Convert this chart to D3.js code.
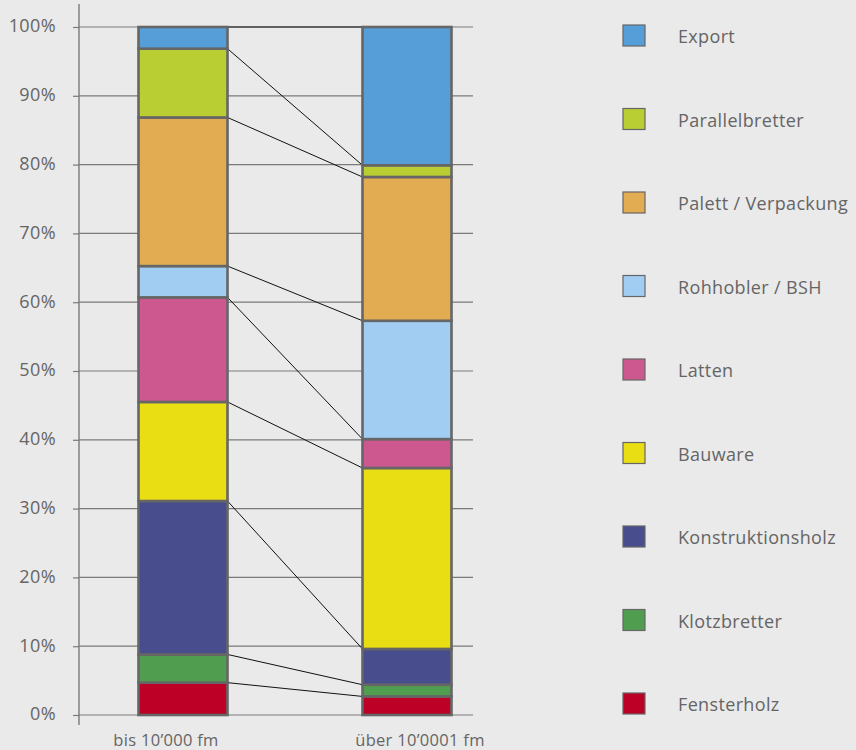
<!DOCTYPE html>
<html>
<head>
<meta charset="utf-8">
<script src="https://cdn.jsdelivr.net/npm/d3@7"></script>
<style>
  html, body { margin: 0; padding: 0; background: #eaeaea; }
  svg { display: block; }
  text { font-family: "Open Sans", "Noto Sans", sans-serif; fill: #656565; }
</style>
</head>
<body>
<svg id="chart" width="856" height="750"></svg>
<script>
// Sawmill output split by product group, for two plant-size classes (share in %)
const categories = ["bis 10’000 fm", "über 10’0001 fm"];

// Product groups, stacked from the bottom up
const products = [
  "Fensterholz", "Klotzbretter", "Konstruktionsholz", "Bauware", "Latten",
  "Rohhobler / BSH", "Palett / Verpackung", "Parallelbretter", "Export"
];

// Share of each product group per size class
const fensterholz       = [4.7, 2.7];
const klotzbretter      = [4.1, 1.7];
const konstruktionsholz = [22.3, 5.2];
const bauware           = [14.4, 26.3];
const latten            = [15.2, 4.2];
const rohhobler         = [4.55, 17.2];
const palett            = [21.6, 20.9];
const parallelbretter   = [10.0, 1.7];
const exportShare       = [3.15, 20.1];

const colors = [
  "#bd0026", "#519d4f", "#484d8d", "#e9dd14", "#cd578f",
  "#a2cdf2", "#e2ad52", "#b8ce33", "#559ed8"
];

const yTicks = [0, 10, 20, 30, 40, 50, 60, 70, 80, 90, 100];

const seriesValues = [
  fensterholz, klotzbretter, konstruktionsholz, bauware, latten,
  rohhobler, palett, parallelbretter, exportShare
];

// Rows per category for d3.stack
const rows = categories.map((c, j) => {
  const r = { category: c };
  products.forEach((p, i) => { r[p] = seriesValues[i][j]; });
  return r;
});

const stacked = d3.stack().keys(products)(rows);

const svg = d3.select("#chart");

const y = d3.scaleLinear().domain([0, 100]).range([715, 27]);
const x = d3.scalePoint().domain(categories).range([183, 407]);
const barW = 89;
const color = d3.scaleOrdinal().domain(products).range(colors);

// Horizontal gridlines
svg.append("g")
  .selectAll("line")
  .data(yTicks)
  .join("line")
  .attr("x1", 79).attr("x2", 473)
  .attr("y1", d => y(d)).attr("y2", d => y(d))
  .attr("stroke", "#7a7a7a")
  .attr("stroke-width", 1.2);

// Y axis
const yAxis = d3.axisLeft(y)
  .tickValues(yTicks)
  .tickSize(6)
  .tickPadding(17)
  .tickFormat(d => d + "%");

const gy = svg.append("g")
  .attr("transform", "translate(79,0)")
  .call(yAxis);
gy.select(".domain").remove();
gy.selectAll(".tick line").attr("stroke", "#7a7a7a").attr("stroke-width", 1.2);
gy.selectAll(".tick text")
  .attr("font-size", 18)
  .attr("letter-spacing", 0.4)
  .attr("dy", "0.27em")
  .style("font-family", "'Open Sans', sans-serif")
  .attr("fill", "#656565");

svg.append("line")
  .attr("x1", 79).attr("x2", 79)
  .attr("y1", 4).attr("y2", 725)
  .attr("stroke", "#7a7a7a")
  .attr("stroke-width", 1.4);

// Connector lines between matching segment tops of the two bars
const c0 = categories[0], c1 = categories[1];
svg.append("g")
  .selectAll("line")
  .data(stacked)
  .join("line")
  .attr("x1", x(c0) + barW / 2)
  .attr("x2", x(c1) - barW / 2)
  .attr("y1", s => y(s[0][1]))
  .attr("y2", s => y(s[1][1]))
  .attr("stroke", "#111")
  .attr("stroke-width", 1);

// Stacked bars
svg.append("g")
  .selectAll("g")
  .data(stacked)
  .join("g")
  .attr("fill", s => color(s.key))
  .selectAll("rect")
  .data(s => s)
  .join("rect")
  .attr("x", d => x(d.data.category) - barW / 2)
  .attr("width", barW)
  .attr("y", d => y(d[1]))
  .attr("height", d => y(d[0]) - y(d[1]))
  .attr("stroke", "#666")
  .attr("stroke-width", 2.6);

// Category labels
const labelShift = [-17, 13];
svg.append("g")
  .selectAll("text")
  .data(categories)
  .join("text")
  .attr("x", (d, i) => x(d) + labelShift[i])
  .attr("y", 746)
  .attr("text-anchor", "middle")
  .attr("font-size", 16.5)
  .attr("letter-spacing", 0.3)
  .text(d => d);

// Legend, top of stack first
const legendItems = products.slice().reverse();
const ly = d3.scalePoint().domain(legendItems).range([36, 704]);
const lg = svg.append("g")
  .selectAll("g")
  .data(legendItems)
  .join("g")
  .attr("transform", d => `translate(623,${ly(d)})`);
lg.append("rect")
  .attr("x", 0).attr("y", -11)
  .attr("width", 22).attr("height", 21)
  .attr("fill", d => color(d))
  .attr("stroke", "#666")
  .attr("stroke-width", 1.2);
lg.append("text")
  .attr("x", 55)
  .attr("y", 7)
  .attr("font-size", 18)
  .attr("letter-spacing", 0.35)
  .text(d => d);
</script>
</body>
</html>
